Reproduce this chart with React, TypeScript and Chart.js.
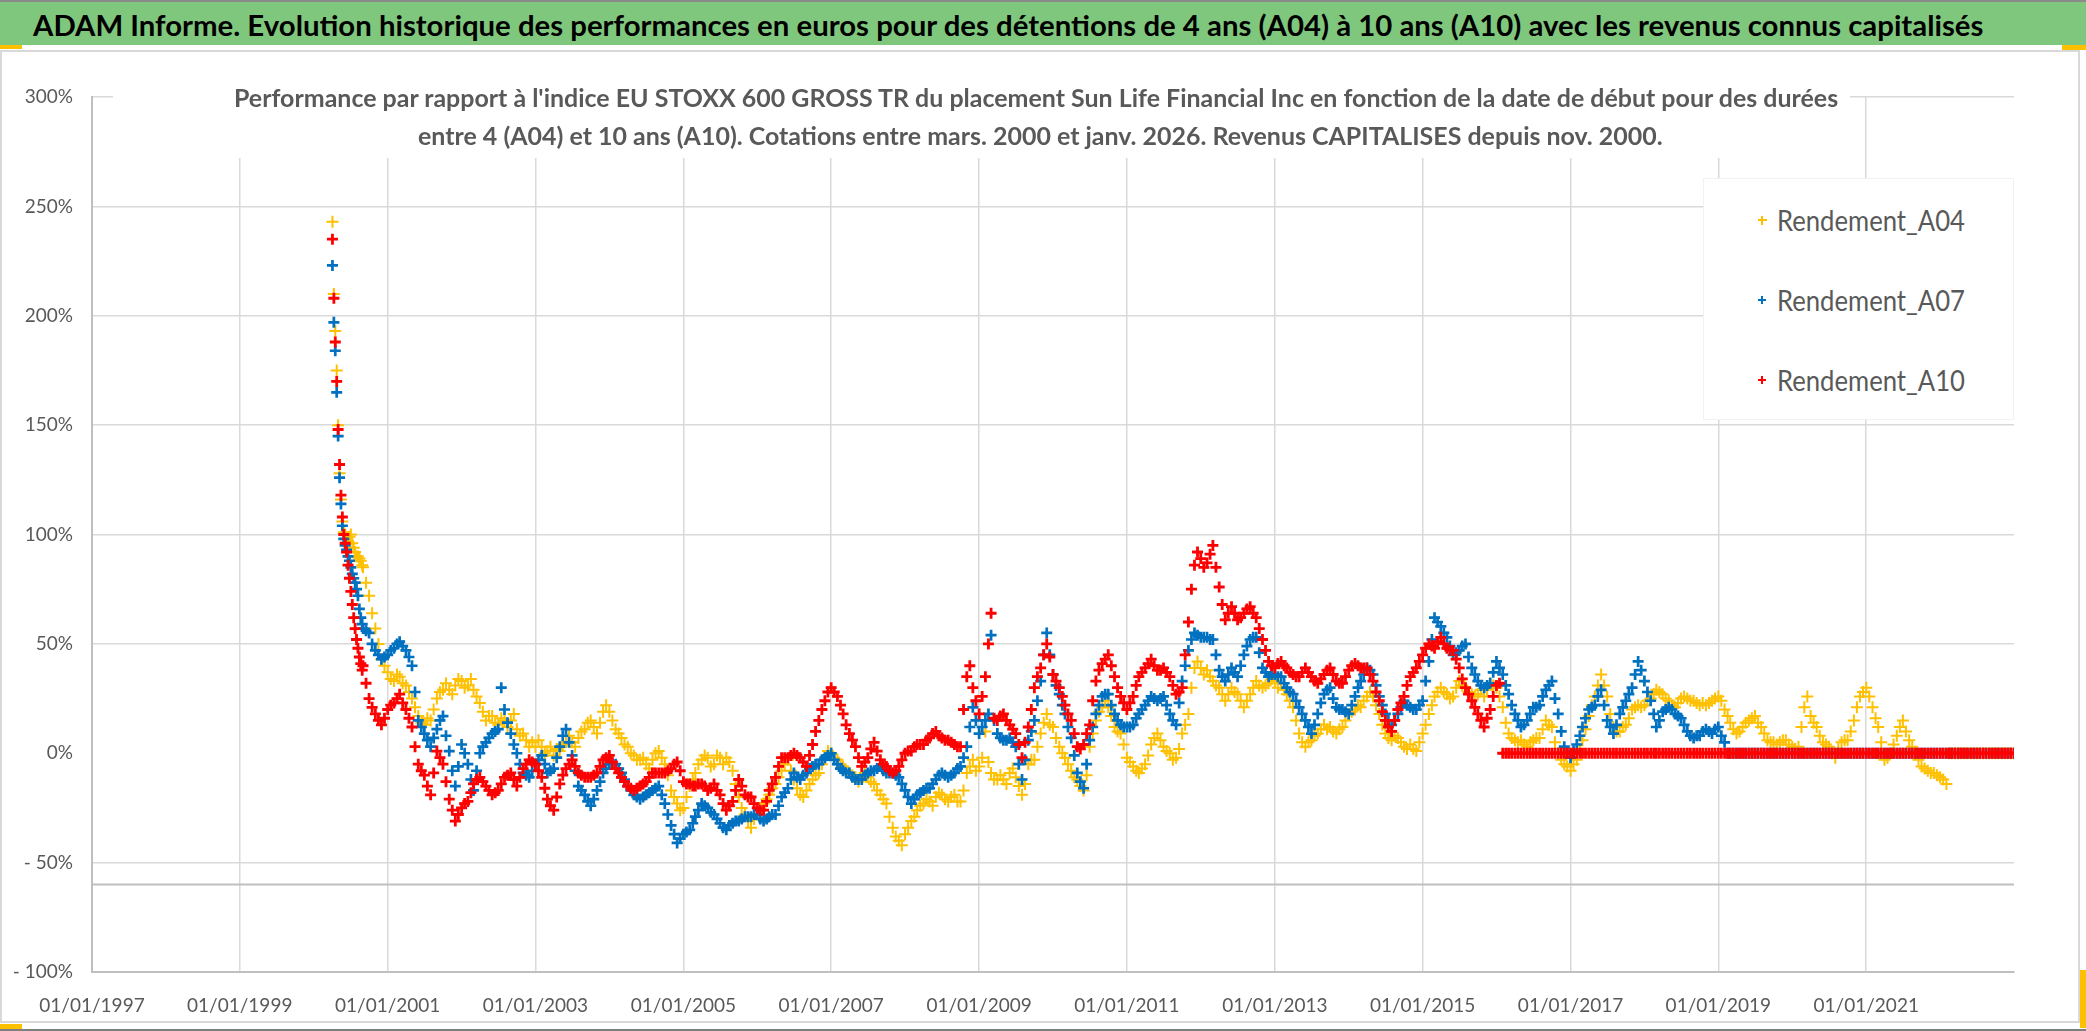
import React, { useEffect, useMemo, useRef } from "react";
import { Chart, registerables } from "chart.js";

Chart.register(...registerables);

const W = 2086;
const H = 1031;
const FONT = "Lato, 'Open Sans', sans-serif";

// ---------- texts ----------
const TITLE =
  "ADAM Informe. Evolution historique des performances en euros pour des détentions de 4 ans (A04) à 10 ans (A10) avec les revenus connus capitalisés";
const SUBTITLE_1 =
  "Performance par rapport à l'indice EU STOXX 600 GROSS TR  du placement Sun Life Financial Inc en fonction de la date de début pour des durées";
const SUBTITLE_2 =
  "entre 4 (A04) et 10 ans (A10). Cotations entre mars. 2000 et janv. 2026. Revenus CAPITALISES depuis nov. 2000.";
const SERIES_LABELS = ["Rendement_A04", "Rendement_A07", "Rendement_A10"];
const SERIES_COLORS = ["#FFC000", "#0070C0", "#FF0000"];

// ---------- axes ----------
const X_TICK_YEARS = [1997, 1999, 2001, 2003, 2005, 2007, 2009, 2011, 2013, 2015, 2017, 2019, 2021];
const X_MIN_YEAR = 1997;
const X_MAX_YEAR = 2023;
const Y_MIN = -100;
const Y_MAX = 300;
const Y_STEP = 50;
const AXIS_CROSS_VALUE = -60;

// ---------- data ----------
// weekly values from 3 April 2000 (start of quotations)
const A04_SPIKE = [243, 210, 193, 175, 150, 128, 116, 106, 101, 100, 98, 97, 99, 100, 96, 94, 92, 90, 90, 89, 88, 86];
const A07_SPIKE = [223, 197, 184, 165, 145, 126, 114, 104, 98, 95, 93, 90, 88, 85, 82, 80, 78, 75, 72, 66, 62, 59];
const A10_SPIKE = [235, 208, 188, 170, 148, 132, 118, 108, 100, 96, 92, 86, 80, 74, 68, 62, 57, 52, 48, 44, 41, 38];

// values on the 1st of each month, September 2000 to January 2023
const A04_MONTH_START = [
  85, 72, 57, 43,
  37, 33, 35, 31, 25, 17, 13, 15, 25, 29, 29, 31,
  33, 31, 29, 23, 15, 17, 13, 15, 15, 11, 9, 3,
  3, 3, 1, -1, 1, 5, 5, 7, 11, 15, 9, 19,
  19, 11, 7, 3, -1, -3, -5, -3, 1, -5, -17, -23,
  -25, -15, -9, -3, -2, -5, -2, -2, -8, -20, -28, -34,
  -28, -23, -19, -14, -8, -3, -12, -19, -17, -12, -9, -2,
  0, -3, -6, -9, -11, -11, -11, -14, -19, -23, -34, -40,
  -37, -31, -26, -23, -22, -20, -19, -22, -19, -22, -9, -3,
  -6, 10, -9, -12, -12, -9, -11, -19, -5, -3, 9, 18,
  12, 3, -2, -8, -12, -17, 3, 15, 21, 21, 12, 9,
  -2, -6, -9, -5, 4, 9, 3, 0, -2, 9, 18, 39,
  39, 38, 33, 30, 24, 30, 27, 21, 27, 33, 30, 32,
  33, 32, 27, 21, 9, 3, 6, 9, 13, 12, 9, 12,
  18, 20, 21, 26, 26, 18, 9, 6, 7, 3, 4, 1,
  9, 18, 26, 30, 27, 26, 33, 30, 27, 27, 26, 32,
  30, 21, 9, 6, 6, 3, 6, 7, 15, 12, 0, -5,
  -8, -3, 6, 17, 26, 36, 26, 12, 10, 13, 20, 22,
  22, 25, 29, 27, 24, 21, 25, 25, 24, 22, 22, 24,
  26, 20, 14, 9, 12, 15, 17, 12, 6, 5, 5, 6,
  3, 3, 21, 17, 12, 5, 3, -2, 5, 6, 15, 26,
  30, 21, 12, -3, 0, 8, 15, 6, 0, -6, -8, -9,
  -11, -14, 0, 0, 0, 0, 0, 0, 0, 0, 0, 0,
  0,
];
const A07_MONTH_START = [
  57, 55, 47, 43,
  45, 48, 51, 47, 40, 15, 9, 3, 11, 17, 1, -15,
  4, -5, -17, 0, 5, 9, 11, 20, 9, 0, -9, -11,
  -5, -1, -9, -7, 3, 11, -1, -15, -19, -24, -17, -9,
  -5, -5, -9, -15, -19, -21, -19, -17, -15, -23, -33, -41,
  -37, -35, -29, -23, -25, -28, -32, -35, -32, -31, -29, -29,
  -28, -31, -29, -28, -20, -16, -9, -12, -9, -6, -5, -2,
  0, -5, -8, -9, -12, -12, -9, -8, -6, -9, -9, -11,
  -17, -23, -19, -17, -16, -12, -9, -11, -9, -6, 3, 21,
  9, 15, 54, 9, 6, 7, 3, -12, 6, 15, 33, 55,
  36, 27, 18, 7, -9, -16, 6, 18, 26, 27, 18, 13,
  12, 13, 18, 22, 26, 24, 26, 18, 13, 33, 47, 55,
  53, 53, 52, 38, 33, 39, 35, 45, 52, 53, 39, 35,
  36, 35, 30, 27, 21, 15, 9, 18, 27, 30, 21, 20,
  18, 26, 33, 39, 36, 26, 18, 13, 18, 24, 21, 20,
  24, 42, 62, 58, 53, 45, 47, 50, 39, 33, 30, 32,
  42, 36, 27, 18, 12, 15, 21, 22, 29, 33, 18, 3,
  -2, 4, 12, 20, 22, 29, 15, 9, 18, 24, 30, 42,
  33, 24, 12, 19, 21, 18, 16, 10, 7, 8, 11, 9,
  12, 5, 0, 0, 0, 0, 0, 0, 0, 0, 0, 0,
  0, 0, 0, 0, 0, 0, 0, 0, 0, 0, 0, 0,
  0, 0, 0, 0, 0, 0, 0, 0, 0, 0, 0, 0,
  0, 0, 0, 0, 0, 0, 0, 0, 0, 0, 0, 0,
  0,
];
const A10_MONTH_START = [
  40, 25, 18, 13,
  20, 23, 27, 20, 12, -5, -10, -19, 1, -5, -21, -31,
  -25, -22, -14, -11, -15, -19, -17, -11, -9, -15, -7, -3,
  -5, -11, -21, -26, -14, -7, -3, -9, -11, -11, -9, -3,
  -1, -7, -11, -15, -17, -15, -13, -9, -9, -9, -7, -4,
  -13, -14, -15, -14, -17, -14, -19, -26, -22, -12, -19, -20,
  -25, -26, -17, -11, -2, -2, 0, -2, -6, 4, 15, 24,
  30, 26, 18, 9, 3, -6, -2, 5, -3, -6, -9, -6,
  0, 1, 4, 4, 7, 10, 7, 6, 4, 3, 35, 30,
  18, 35, 64, 15, 18, 13, 9, -2, 12, 30, 39, 50,
  36, 30, 22, 15, 3, 4, 13, 33, 41, 45, 35, 26,
  20, 26, 35, 39, 43, 38, 39, 35, 27, 30, 60, 86,
  89, 87, 95, 76, 61, 67, 61, 64, 67, 62, 52, 42,
  39, 42, 39, 36, 35, 39, 35, 32, 36, 39, 33, 32,
  38, 41, 39, 39, 33, 24, 15, 10, 20, 26, 35, 39,
  45, 50, 48, 53, 48, 47, 39, 30, 24, 18, 12, 20,
  31, 0, 0, 0, 0, 0, 0, 0, 0, 0, 0, 0,
  0, 0, 0, 0, 0, 0, 0, 0, 0, 0, 0, 0,
  0, 0, 0, 0, 0, 0, 0, 0, 0, 0, 0, 0,
  0, 0, 0, 0, 0, 0, 0, 0, 0, 0, 0, 0,
  0, 0, 0, 0, 0, 0, 0, 0, 0, 0, 0, 0,
  0, 0, 0, 0, 0, 0, 0, 0, 0, 0, 0, 0,
  0, 0, 0, 0, 0, 0, 0, 0, 0, 0, 0, 0,
  0,
];

// values on the 16th of each month, September 2000 to December 2022
const A04_MID_MONTH = [
  78, 64, 50, 40,
  34, 36, 32, 28, 21, 14, 16, 20, 28, 32, 27, 34,
  30, 34, 26, 19, 17, 14, 16, 12, 18, 8, 6, 5,
  6, 0, 3, 2, 4, 8, 3, 10, 14, 12, 14, 22,
  15, 9, 4, 0, -3, -2, -7, 0, -2, -10, -20, -26,
  -20, -12, -5, -1, -6, -1, -5, -4, -14, -25, -31, -30,
  -25, -21, -16, -11, -5, -8, -16, -20, -14, -10, -5, 1,
  -2, -5, -8, -10, -13, -9, -13, -17, -21, -29, -38, -42,
  -34, -29, -24, -21, -24, -18, -21, -20, -22, -17, -6, -8,
  -2, -4, -12, -10, -14, -7, -15, -14, -3, 3, 14, 13,
  7, 0, -5, -11, -15, -10, 9, 19, 24, 17, 10, 4,
  -4, -8, -7, -1, 7, 6, 1, -3, 2, 13, 30, 42,
  36, 35, 31, 27, 27, 28, 24, 24, 30, 31, 31, 34,
  30, 29, 24, 15, 5, 5, 8, 11, 11, 10, 11, 15,
  19, 22, 24, 28, 22, 13, 7, 8, 5, 2, 2, 5,
  13, 22, 28, 28, 25, 30, 31, 28, 26, 29, 29, 31,
  26, 14, 7, 5, 4, 5, 7, 11, 13, 5, -3, -6,
  -5, 2, 11, 22, 31, 31, 18, 10, 12, 16, 21, 21,
  24, 27, 28, 25, 22, 23, 26, 24, 23, 23, 23, 25,
  24, 17, 11, 10, 14, 16, 14, 9, 5, 4, 6, 4,
  2, 12, 26, 14, 8, 4, 0, 2, 6, 10, 21, 28,
  26, 16, 5, -2, 4, 12, 10, 3, -3, -7, -9, -10,
  -12, 0, 0, 0, 0, 0, 0, 0, 0, 0, 0, 0,
];
const A07_MID_MONTH = [
  56, 50, 45, 44,
  47, 50, 49, 44, 28, 12, 6, 7, 15, 8, -8, -6,
  0, -12, -8, 3, 7, 10, 30, 14, 4, -5, -10, -8,
  -3, -5, -8, -2, 8, 5, -8, -17, -22, -21, -13, -7,
  -5, -7, -12, -17, -20, -20, -18, -16, -19, -28, -37, -39,
  -36, -32, -26, -24, -27, -30, -34, -33, -31, -30, -29, -28,
  -30, -30, -28, -24, -18, -12, -11, -10, -7, -5, -3, -1,
  -3, -7, -9, -11, -12, -10, -8, -7, -8, -9, -10, -14,
  -20, -21, -18, -16, -14, -10, -10, -10, -7, -2, 12, 15,
  12, 18, 15, 7, 6, 5, -5, -3, 10, 24, 45, 45,
  31, 22, 12, -1, -13, -5, 12, 22, 27, 22, 15, 12,
  12, 16, 20, 24, 25, 25, 22, 15, 23, 40, 52, 54,
  53, 52, 45, 35, 36, 37, 40, 49, 53, 46, 37, 36,
  35, 32, 28, 24, 18, 12, 13, 23, 29, 25, 20, 19,
  22, 30, 36, 38, 31, 22, 15, 15, 21, 22, 20, 22,
  33, 52, 60, 55, 49, 46, 49, 44, 36, 31, 31, 37,
  39, 31, 22, 15, 13, 18, 21, 26, 31, 25, 10, 0,
  1, 8, 16, 21, 26, 22, 12, 13, 21, 27, 36, 38,
  28, 18, 15, 20, 20, 17, 13, 8, 8, 10, 10, 11,
  8, 0, 0, 0, 0, 0, 0, 0, 0, 0, 0, 0,
  0, 0, 0, 0, 0, 0, 0, 0, 0, 0, 0, 0,
  0, 0, 0, 0, 0, 0, 0, 0, 0, 0, 0, 0,
  0, 0, 0, 0, 0, 0, 0, 0, 0, 0, 0, 0,
];
const A10_MID_MONTH = [
  32, 21, 15, 16,
  22, 25, 23, 16, 3, -8, -15, -9, -2, -13, -26, -28,
  -23, -18, -12, -13, -17, -18, -14, -10, -12, -11, -5, -4,
  -8, -16, -24, -20, -10, -5, -6, -10, -11, -10, -6, -2,
  -4, -9, -13, -16, -16, -14, -11, -9, -9, -8, -5, -8,
  -14, -15, -14, -15, -16, -17, -23, -24, -17, -15, -20, -23,
  -26, -22, -14, -6, -2, -1, -1, -4, -1, 10, 20, 28,
  28, 22, 13, 6, -2, -4, 2, 1, -5, -8, -8, -3,
  1, 3, 4, 6, 9, 8, 6, 5, 3, 20, 40, 24,
  26, 50, 16, 17, 15, 11, 4, 5, 20, 35, 45, 44,
  33, 26, 18, 9, 2, 9, 24, 38, 43, 40, 30, 23,
  23, 31, 37, 41, 40, 38, 37, 31, 28, 45, 75, 92,
  85, 91, 85, 68, 64, 64, 62, 66, 64, 57, 47, 40,
  41, 40, 37, 35, 37, 37, 33, 34, 38, 36, 32, 35,
  40, 40, 39, 36, 28, 19, 12, 15, 23, 31, 37, 42,
  48, 49, 51, 50, 47, 43, 34, 27, 21, 15, 16, 26,
  32, 0, 0, 0, 0, 0, 0, 0, 0, 0, 0, 0,
  0, 0, 0, 0, 0, 0, 0, 0, 0, 0, 0, 0,
  0, 0, 0, 0, 0, 0, 0, 0, 0, 0, 0, 0,
  0, 0, 0, 0, 0, 0, 0, 0, 0, 0, 0, 0,
  0, 0, 0, 0, 0, 0, 0, 0, 0, 0, 0, 0,
  0, 0, 0, 0, 0, 0, 0, 0, 0, 0, 0, 0,
  0, 0, 0, 0, 0, 0, 0, 0, 0, 0, 0, 0,
];

function buildPoints(spike: number[], monthStart: number[], midMonth: number[]) {
  const pts: { x: number; y: number }[] = [];
  spike.forEach((v, i) => pts.push({ x: Date.UTC(2000, 3, 3 + 7 * i), y: v }));
  monthStart.forEach((v, i) => {
    pts.push({ x: Date.UTC(2000, 8 + i, 1), y: v });
    if (i < midMonth.length) pts.push({ x: Date.UTC(2000, 8 + i, 16), y: midMonth[i] });
  });
  return pts;
}

function fmtDate(v: number) {
  const d = new Date(v);
  const dd = String(d.getUTCDate()).padStart(2, "0");
  const mm = String(d.getUTCMonth() + 1).padStart(2, "0");
  return `${dd}/${mm}/${d.getUTCFullYear()}`;
}

function fmtPct(v: number) {
  if (v === 0) return "0%";
  if (v < 0) return `- ${Math.abs(v)}%`;
  return `${v}%`;
}

function measure(text: string, weight: string, size: number) {
  const c = document.createElement("canvas").getContext("2d");
  if (!c) return text.length * size * 0.5;
  c.font = `${weight} ${size}px ${FONT}`;
  return c.measureText(text).width;
}

const axisLinePlugin = {
  id: "axisCrossLine",
  beforeDatasetsDraw(chart: any) {
    const { ctx, chartArea, scales } = chart;
    const y = scales.y.getPixelForValue(AXIS_CROSS_VALUE);
    ctx.save();
    ctx.strokeStyle = "#BFBFBF";
    ctx.lineWidth = 2;
    ctx.beginPath();
    ctx.moveTo(chartArea.left, y);
    ctx.lineTo(chartArea.right, y);
    ctx.stroke();
    ctx.restore();
  },
};

function Cross({ cx, cy, size, thick, color }: { cx: number; cy: number; size: number; thick: number; color: string }) {
  return (
    <>
      <div style={{ position: "absolute", left: cx - size / 2, top: cy - thick / 2, width: size, height: thick, background: color }} />
      <div style={{ position: "absolute", left: cx - thick / 2, top: cy - size / 2, width: thick, height: size, background: color }} />
    </>
  );
}

function FitText({
  text, left, cy, size, weight, color, scale,
}: { text: string; left: number; cy: number; size: number; weight: string; color: string; scale: number }) {
  return (
    <div
      style={{
        position: "absolute",
        left,
        top: cy - size,
        height: size * 2,
        lineHeight: `${size * 2}px`,
        whiteSpace: "nowrap",
        fontWeight: weight as any,
        fontSize: size,
        color,
        transform: `scaleX(${scale})`,
        transformOrigin: "0 50%",
      }}
    >
      {text}
    </div>
  );
}

export default function App() {
  const canvasRef = useRef<HTMLCanvasElement>(null);

  const layout = useMemo(() => {
    const titleSize = 29;
    const titleScale = 1951 / measure(TITLE, "bold", titleSize);
    const subSize = 25;
    const sub1W = measure(SUBTITLE_1, "bold", subSize);
    const sub2W = measure(SUBTITLE_2, "bold", subSize);
    const subScale = 1612 / sub1W;
    const legSize = 28;
    const legScale = 188 / measure(SERIES_LABELS[0], "normal", legSize);
    return {
      titleSize, titleScale, subSize, subScale,
      sub1Left: 1040 - (sub1W * subScale) / 2,
      sub2Left: 1040 - (sub2W * subScale) / 2,
      legSize, legScale,
    };
  }, []);

  useEffect(() => {
    document.body.style.margin = "0";
    const canvas = canvasRef.current;
    if (!canvas) return;
    const series = [
      buildPoints(A04_SPIKE, A04_MONTH_START, A04_MID_MONTH),
      buildPoints(A07_SPIKE, A07_MONTH_START, A07_MID_MONTH),
      buildPoints(A10_SPIKE, A10_MONTH_START, A10_MID_MONTH),
    ];
    const widths = [2, 2.7, 2.8];
    const radii = [6, 5.5, 5.5];
    const chart = new Chart(canvas, {
      type: "scatter",
      data: {
        datasets: series.map((pts, i) => ({
          label: SERIES_LABELS[i],
          data: pts,
          order: 3 - i,
          showLine: false,
          pointStyle: "cross",
          pointRadius: radii[i],
          pointBorderWidth: widths[i],
          borderColor: SERIES_COLORS[i],
          backgroundColor: SERIES_COLORS[i],
          pointHoverRadius: radii[i],
        })),
      },
      options: {
        animation: false,
        responsive: false,
        devicePixelRatio: 1,
        events: [],
        layout: { padding: { left: 0, top: 97, right: 72, bottom: 0 } },
        plugins: { legend: { display: false }, tooltip: { enabled: false }, title: { display: false } },
        scales: {
          x: {
            type: "linear",
            min: Date.UTC(X_MIN_YEAR, 0, 1),
            max: Date.UTC(X_MAX_YEAR, 0, 1),
            afterBuildTicks: (s: any) => {
              s.ticks = X_TICK_YEARS.map((y) => ({ value: Date.UTC(y, 0, 1) }));
            },
            afterFit: (s: any) => {
              s.height = 59;
            },
            ticks: {
              autoSkip: false,
              maxRotation: 0,
              minRotation: 0,
              padding: 22,
              color: "#595959",
              font: { family: FONT, size: 19 },
              callback: (v: any) => fmtDate(Number(v)),
            },
            grid: { color: "#D9D9D9", lineWidth: 1.5, drawTicks: false },
            border: { display: true, color: "#BFBFBF", width: 2 },
          },
          y: {
            min: Y_MIN,
            max: Y_MAX,
            afterFit: (s: any) => {
              s.width = 92;
            },
            ticks: {
              stepSize: Y_STEP,
              padding: 19,
              color: "#595959",
              font: { family: FONT, size: 19 },
              callback: (v: any) => fmtPct(Number(v)),
            },
            grid: {
              drawTicks: false,
              lineWidth: 1.5,
              color: (c: any) => (c.tick && c.tick.value === 0 ? "rgba(0,0,0,0)" : "#D9D9D9"),
            },
            border: { display: true, color: "#BFBFBF", width: 2 },
          },
        },
      },
      plugins: [axisLinePlugin],
    } as any);
    return () => chart.destroy();
  }, []);

  const legendRows = [220, 300, 380];
  const crossSpec = [
    { size: 9, thick: 1.4 },
    { size: 8, thick: 2 },
    { size: 8, thick: 2 },
  ];

  return (
    <div style={{ position: "absolute", left: 0, top: 0, width: W, height: H, background: "#FFFFFF", overflow: "hidden", fontFamily: FONT }}>
      {/* title band */}
      <div style={{ position: "absolute", left: 0, top: 0, width: W, height: 45, background: "#80C77E", borderTop: "2px solid #8A8A8A", boxSizing: "border-box" }} />
      <FitText text={TITLE} left={33} cy={25} size={layout.titleSize} weight="bold" color="#000000" scale={layout.titleScale} />
      {/* chart frame */}
      <div style={{ position: "absolute", left: 0, top: 50, width: 2080, height: 973, border: "2px solid #D9D9D9", boxSizing: "border-box", background: "#FFFFFF" }} />
      <div style={{ position: "absolute", left: 0, top: 1029, width: W, height: 2, background: "#7F7F7F" }} />
      {/* selection marks */}
      <div style={{ position: "absolute", left: 0, top: 45, width: 22, height: 4, background: "#FFC000" }} />
      <div style={{ position: "absolute", left: 2062, top: 45, width: 24, height: 5, background: "#FFC000" }} />
      <div style={{ position: "absolute", left: 2080, top: 970, width: 6, height: 58, background: "#FFC000" }} />
      <div style={{ position: "absolute", left: 0, top: 1024, width: 22, height: 5, background: "#FFC000" }} />

      <canvas ref={canvasRef} width={W} height={H} style={{ position: "absolute", left: 0, top: 0, width: W, height: H }} />

      {/* subtitle box */}
      <div style={{ position: "absolute", left: 113, top: 80, width: 1737, height: 78, background: "#FFFFFF" }} />
      <FitText text={SUBTITLE_1} left={layout.sub1Left} cy={97} size={layout.subSize} weight="bold" color="#595959" scale={layout.subScale} />
      <FitText text={SUBTITLE_2} left={layout.sub2Left} cy={135} size={layout.subSize} weight="bold" color="#595959" scale={layout.subScale} />

      {/* legend */}
      <div style={{ position: "absolute", left: 1703, top: 178, width: 311, height: 242, background: "#FFFFFF", border: "1px solid #F2F2F2", boxSizing: "border-box" }} />
      {SERIES_LABELS.map((lab, i) => (
        <React.Fragment key={lab}>
          <Cross cx={1762} cy={legendRows[i]} size={crossSpec[i].size} thick={crossSpec[i].thick} color={SERIES_COLORS[i]} />
          <FitText text={lab} left={1777} cy={legendRows[i]} size={layout.legSize} weight="normal" color="#595959" scale={layout.legScale} />
        </React.Fragment>
      ))}
    </div>
  );
}
